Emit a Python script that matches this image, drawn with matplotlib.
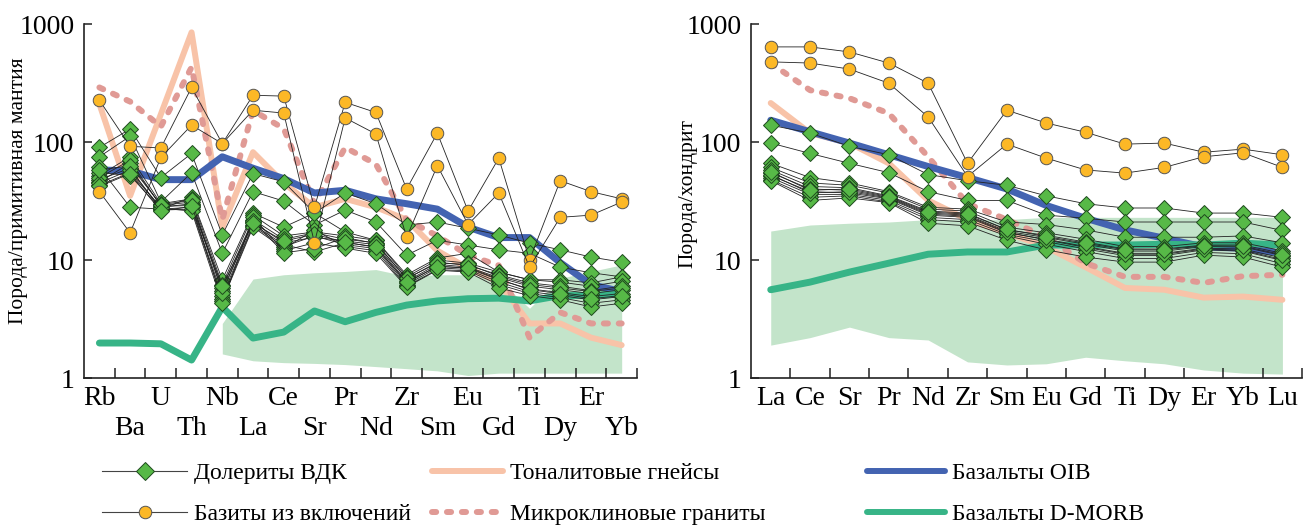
import numpy as np
import matplotlib.pyplot as plt
from matplotlib.ticker import NullLocator

plt.rcParams['font.family'] = ['Liberation Serif', 'DejaVu Serif']

# ---- left panel: primitive mantle normalised ----
pm_elems = ['Rb', 'Ba', 'U', 'Th', 'Nb', 'La', 'Ce', 'Sr', 'Pr', 'Nd',
            'Zr', 'Sm', 'Eu', 'Gd', 'Ti', 'Dy', 'Er', 'Yb']

pm_dol = [
    [90, 129, 50, 80, 16.3, 54, 46, 25, 37, 30, 19.8, 21, 18.6, 16.3, 13.9, 12.2, 10.6, 9.6],
    [75, 112, 31, 55, 11.4, 38, 31.6, 19.8, 26.5, 21, 11, 14.7, 13.4, 12.2, 11.4, 8.7, 7.8, 7.2],
    [61, 28, 27, 34, 6.8, 25, 19, 25, 17.3, 14.7, 7.5, 10.4, 11.4, 7.9, 6.8, 6.8, 6.4, 7.2],
    [52, 75, 30, 33, 6.2, 24, 16, 17.3, 16, 14.7, 7.2, 10, 9.4, 7.9, 6.8, 6.5, 6.0, 6.6],
    [46, 66, 29, 31, 5.8, 22, 15, 17, 15, 14, 6.9, 9.6, 9.0, 7.5, 6.4, 6.0, 5.5, 6.0],
    [43, 55, 28, 30, 5.5, 21, 14, 15.6, 14.5, 13.5, 6.6, 9.2, 8.7, 7.1, 6.0, 5.6, 5.2, 5.6],
    [55, 52, 27, 28, 5.0, 20, 13.5, 11.7, 14, 13, 6.4, 8.9, 8.5, 6.8, 5.7, 5.3, 4.9, 5.2],
    [48, 60, 26.5, 27, 4.7, 19.5, 13, 16, 13.5, 12.5, 6.2, 8.6, 8.3, 6.5, 5.4, 5.0, 4.6, 4.9],
    [50, 70, 28.5, 29, 4.5, 19, 12.5, 18, 13, 12, 6.0, 8.3, 8.1, 6.2, 5.2, 4.8, 4.3, 4.6],
    [45, 58, 27.5, 26, 4.3, 23, 12, 14, 12.6, 11.4, 5.9, 8.2, 7.9, 5.8, 5.0, 4.6, 4.0, 4.3],
    [58, 63, 29.5, 32, 5.3, 21.5, 11.5, 12.5, 15.5, 13.8, 7.0, 9.4, 9.2, 7.3, 6.2, 5.8, 5.4, 5.8],
    [42, 54, 26, 28.5, 6.0, 20.5, 14.5, 16.5, 14.2, 12.8, 6.5, 8.8, 8.6, 6.9, 5.6, 5.2, 4.7, 5.0],
]
pm_baz = [
    [226, 92, 89, 290, 97, 249, 245, 28, 217, 178, 40, 119, 26, 73, 10, 47, 38, 33],
    [38, 17, 74, 139, 97, 186, 176, 14, 160, 117, 15.6, 63, 20, 37, 8.7, 23, 24, 31],
]
pm_ton = [210, 35, 172, 850, 19, 82, 45, 28, 33, 28, 22, 12, 8.5, 6.5, 2.9, 2.9, 2.2, 1.9]
pm_mic = [290, 220, 135, 430, 22, 185, 130, 30, 90, 65, 22, 16, 11, 9, 2.2, 3.6, 2.9, 2.9]
pm_oib = [58, 57, 48, 48, 75, 60, 49, 37, 39, 33, 30, 27, 19, 15.5, 15.5, 9.5, 6.2, 5.4]
pm_morb = [1.98, 1.98, 1.95, 1.42, 4.0, 2.18, 2.45, 3.7, 3.0, 3.6, 4.15, 4.5, 4.7, 4.75, 4.5, 5.0, 5.0, 5.2]
pm_fill_lo = [1.6, 1.4, 1.35, 1.33, 1.3, 1.25, 1.2, 1.15, 1.05, 1.1, 1.1, 1.1, 1.1, 1.1]
pm_fill_hi = [2.9, 6.9, 7.5, 7.8, 8.0, 8.3, 7.3, 7.5, 7.5, 6.8, 3.9, 7.0, 8.0, 9.1]

# ---- right panel: chondrite normalised ----
ch_elems = ['La', 'Ce', 'Sr', 'Pr', 'Nd', 'Zr', 'Sm', 'Eu', 'Gd', 'Ti', 'Dy', 'Er', 'Yb', 'Lu']

ch_dol = [
    [139, 119, 92, 78, 53, 47, 43, 35, 30, 27.6, 27.6, 25, 25, 23],
    [98, 80, 66, 55, 38, 32, 32, 24, 22.6, 21, 21, 21, 21, 17.8],
    [66, 50, 45, 38, 28, 27, 21, 20, 18, 15.6, 15.6, 15.6, 16, 14],
    [61, 45, 43, 37, 27, 26, 19, 17, 15, 13, 13, 14, 14, 12],
    [58, 42, 41, 35, 26, 25, 18, 16.2, 14.2, 12.4, 12.4, 13.4, 13.4, 11.4],
    [55, 40, 39, 34, 25, 24, 17.5, 15.5, 13.6, 11.9, 11.9, 13, 12.9, 10.9],
    [52, 38, 37, 33, 24, 23, 17, 15, 13, 11.4, 11.4, 12.6, 12.4, 10.4],
    [50, 36, 36, 32, 23, 22, 16.5, 14.3, 12.4, 10.9, 10.9, 12.2, 11.9, 9.9],
    [48, 34, 35, 31, 22, 21, 16, 13.6, 11.8, 10.3, 10.3, 11.6, 11.3, 9.3],
    [47, 32, 33.6, 30.6, 20.5, 19.5, 14.7, 12.2, 10.6, 9.6, 9.6, 11, 10.6, 8.7],
    [53, 37, 38, 33.5, 24.5, 23.5, 17.2, 14.8, 12.8, 11.2, 11.2, 12.4, 12.1, 10.1],
    [56, 39, 40, 34.5, 25.5, 24.5, 18.2, 15.8, 13.9, 12.2, 12.2, 13.2, 13.1, 11.1],
]
ch_baz = [
    [640, 640, 580, 467, 315, 66, 186, 145, 121, 96, 98, 82, 87, 78],
    [478, 467, 415, 315, 163, 51, 96, 73, 58, 54.5, 61, 75, 81, 61],
]
ch_ton = [214, 119, 98, 66, 32, 22, 17, 12.9, 8.7, 5.8, 5.6, 4.8, 4.9, 4.6]
ch_mic = [465, 275, 235, 175, 75, 30, 22, 15.6, 9.4, 7.2, 7.2, 6.4, 7.3, 7.5]
ch_oib = [153, 122, 98, 78, 62, 50, 40, 29, 22.6, 18, 15.3, 12.9, 12.6, 11.4]
ch_morb = [5.6, 6.5, 7.9, 9.4, 11.2, 11.7, 11.7, 13.4, 13.4, 13.4, 13.6, 13.4, 13.9, 13.4]
ch_fill_lo = [1.9, 2.2, 2.7, 2.2, 2.1, 1.37, 1.29, 1.32, 1.5, 1.4, 1.32, 1.17, 1.1, 1.08]
ch_fill_hi = [17.6, 19.8, 20.5, 21, 22, 22, 22, 23, 23, 23, 23, 23, 23, 23]

c_dol = '#57b947'
c_baz = '#fcb826'
c_ton = '#f8c3a8'
c_mic = '#e09a95'
c_oib = '#4363b1'
c_morb = '#37b487'
c_fill = '#c3e4ca'

fig = plt.figure(figsize=(13.03, 5.27), dpi=100)
ax1 = fig.add_axes([0.0645, 0.2827, 0.4244, 0.6717])
ax2 = fig.add_axes([0.5764, 0.2827, 0.4229, 0.6717])


def draw(ax, elems, dol, baz, ton, mic, oib, morb, f0, flo, fhi):
    x = np.arange(len(elems))
    ax.fill_between(x[f0:], flo, fhi, color=c_fill, lw=0, zorder=1)
    ax.plot(x, ton, color=c_ton, lw=4.3, solid_capstyle='round', zorder=2)
    ax.plot(x, mic, color=c_mic, lw=4.3, ls=(0, (0.7, 1.8)),
            dash_capstyle='round', zorder=2)
    ax.plot(x, oib, color=c_oib, lw=5, solid_capstyle='round', zorder=3)
    ax.plot(x, morb, color=c_morb, lw=5, solid_capstyle='round', zorder=3)
    for row in dol:
        ax.plot(x, row, color='#222222', lw=0.6, marker='D', ms=7.8,
                mfc=c_dol, mec='#1e4a1e', mew=0.7, zorder=4)
    for row in baz:
        ax.plot(x, row, color='#222222', lw=0.6, marker='o', ms=9,
                mfc=c_baz, mec='#555555', mew=0.7, zorder=4)

    ax.set_yscale('log')
    ax.set_ylim(1, 1000)
    ax.set_xlim(-0.5, len(elems) - 0.5)
    ax.set_yticks([1, 10, 100, 1000], ['1', '10', '100', '1000'])
    ax.yaxis.set_minor_locator(NullLocator())
    ax.tick_params(axis='y', direction='in', length=6, width=1.1,
                   labelsize=20, pad=7, color='#222222')
    ax.set_xticks(x, elems)
    ax.set_xticks(x + 0.5, minor=True)
    ax.tick_params(axis='x', which='minor', direction='in', length=7,
                   width=1.1, color='#222222')
    ax.tick_params(axis='x', which='major', length=0, labelsize=20, pad=6)
    for s in ['top', 'right']:
        ax.spines[s].set_visible(False)
    for s in ['left', 'bottom']:
        ax.spines[s].set_linewidth(1.2)
        ax.spines[s].set_color('#222222')
    return x


draw(ax1, pm_elems, pm_dol, pm_baz, pm_ton, pm_mic, pm_oib, pm_morb,
     4, pm_fill_lo, pm_fill_hi)
# staggered element labels: every second one on a lower row
for i, tick in enumerate(ax1.xaxis.get_major_ticks()):
    if i % 2 == 1:
        tick.set_pad(27)
ax1.set_ylabel('Порода/примитивная мантия', fontsize=15.5)
ax1.yaxis.set_label_coords(-0.101, 0.53)

draw(ax2, ch_elems, ch_dol, ch_baz, ch_ton, ch_mic, ch_oib, ch_morb,
     0, ch_fill_lo, ch_fill_hi)
ax2.set_ylabel('Порода/хондрит', fontsize=15.5)
ax2.yaxis.set_label_coords(-0.098, 0.52)

# legend, three columns
h_dol = plt.Line2D([], [], color='#444444', lw=0.8, marker='D', ms=9,
                   mfc=c_dol, mec='#1e4a1e', mew=0.7)
h_baz = plt.Line2D([], [], color='#444444', lw=0.8, marker='o', ms=9,
                   mfc=c_baz, mec='#555555', mew=0.7)
h_ton = plt.Line2D([], [], color=c_ton, lw=4.3, solid_capstyle='round')
h_mic = plt.Line2D([], [], color=c_mic, lw=4.3, ls=(0, (0.7, 1.8)),
                   dash_capstyle='round')
h_oib = plt.Line2D([], [], color=c_oib, lw=4.3, solid_capstyle='round')
h_morb = plt.Line2D([], [], color=c_morb, lw=4.3, solid_capstyle='round')

cols = [
    ([h_dol, h_baz], ['Долериты ВДК', 'Базиты из включений'], 0.0783, 3.6),
    ([h_ton, h_mic], ['Тоналитовые гнейсы', 'Микроклиновые граниты'], 0.3315, 3.0),
    ([h_oib, h_morb], ['Базальты OIB', 'Базальты D-MORB'], 0.6654, 3.3),
]
for hs, ls, xpos, hl in cols:
    fig.legend(hs, ls, loc='upper left', bbox_to_anchor=(xpos, 0.122),
               frameon=False, fontsize=17, handlelength=hl,
               handletextpad=0.3, labelspacing=0.82, borderaxespad=0,
               borderpad=0)

fig.savefig('out.png', dpi=100)
